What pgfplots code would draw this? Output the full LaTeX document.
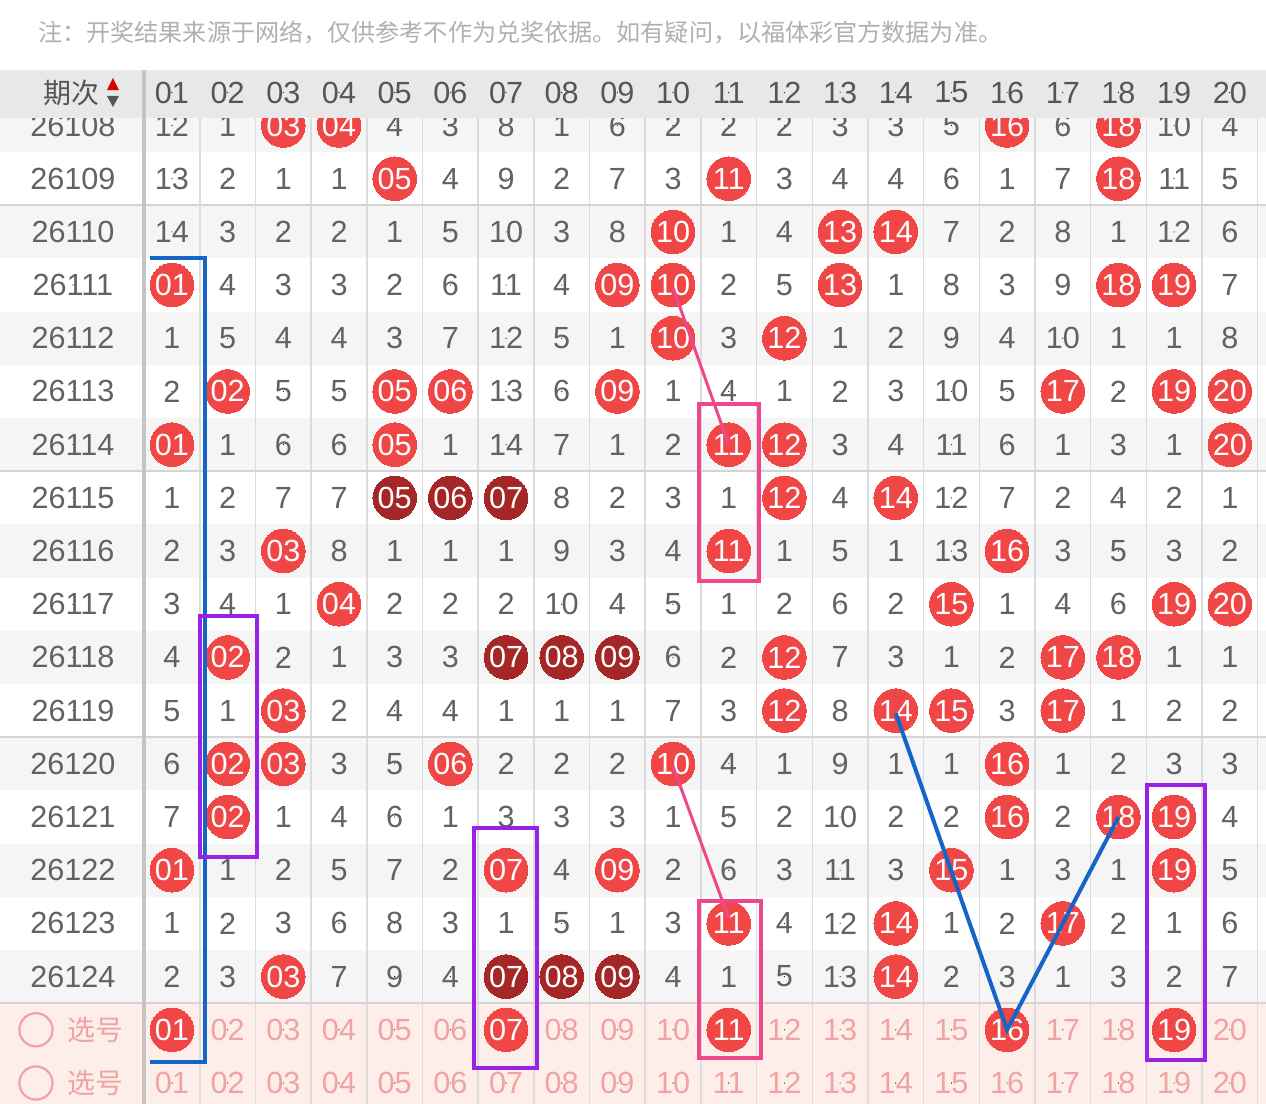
\documentclass[border=0pt]{standalone}
\usepackage{pgfplots}
\pgfplotsset{compat=1.18}
\usepackage{fontspec}
\setmainfont{Liberation Sans}
\newfontfamily\cjk{Noto Sans CJK SC}
\definecolor{txt}{HTML}{626262}
\definecolor{hdrtxt}{HTML}{555555}
\definecolor{ballred}{HTML}{F04646}
\definecolor{balldark}{HTML}{A52626}
\definecolor{rowgray}{HTML}{F5F5F5}
\definecolor{selbg}{HTML}{FDEEEA}
\definecolor{seltxt}{HTML}{F0A3A3}
\definecolor{gridc}{HTML}{DCDCDC}
\definecolor{sepc}{HTML}{D4D4D4}
\definecolor{hdrbg}{HTML}{E8E8E8}
\definecolor{divc}{HTML}{C4C4C4}
\definecolor{notec}{HTML}{B0B0B0}
\definecolor{lineblue}{HTML}{1565C8}
\definecolor{linepurple}{HTML}{9A22E6}
\definecolor{linepink}{HTML}{F0468C}
\newcommand{\dig}{\fontsize{15.3}{16}\selectfont}

\pgfplotsset{
  cells/.style={only marks, mark=*, mark size=0.01pt, mark options={draw=none, fill=none},
    point meta=explicit symbolic, nodes near coords,
    every node near coord/.append style={anchor=center, inner sep=0pt, font=\dig}},
  cellsgray/.style={cells, every node near coord/.append style={text=txt}},
  cellspink/.style={cells, every node near coord/.append style={text=seltxt}},
  cellshdr/.style={cells, every node near coord/.append style={text=hdrtxt}},
  ballsbase/.style={only marks, mark=*, mark size=10.9pt,
    point meta=explicit symbolic, nodes near coords,
    every node near coord/.append style={anchor=center, inner sep=0pt, font=\dig, text=white}},
  ballsred/.style={ballsbase, color=ballred, mark options={draw=ballred, fill=ballred, line width=0pt}},
  ballsdark/.style={ballsbase, color=balldark, mark options={draw=balldark, fill=balldark, line width=0pt}},
}

\begin{document}
\begin{tikzpicture}
\begin{axis}[
  x=27.84pt, y=26.6pt, y dir=reverse,
  xmin=-2.089, xmax=20.65, ymin=-2.359, ymax=18.393,
  hide axis, clip=true, clip marker paths=true,
]
% background
\fill[white] (axis cs:-2.2,-2.5) rectangle (axis cs:21,18.5);
\fill[rowgray] (axis cs:-2.2,-0.5) rectangle (axis cs:21,0.5);
\fill[rowgray] (axis cs:-2.2,1.5) rectangle (axis cs:21,2.5);
\fill[rowgray] (axis cs:-2.2,3.5) rectangle (axis cs:21,4.5);
\fill[rowgray] (axis cs:-2.2,5.5) rectangle (axis cs:21,6.5);
\fill[rowgray] (axis cs:-2.2,7.5) rectangle (axis cs:21,8.5);
\fill[rowgray] (axis cs:-2.2,9.5) rectangle (axis cs:21,10.5);
\fill[rowgray] (axis cs:-2.2,11.5) rectangle (axis cs:21,12.5);
\fill[rowgray] (axis cs:-2.2,13.5) rectangle (axis cs:21,14.5);
\fill[rowgray] (axis cs:-2.2,15.5) rectangle (axis cs:21,16.5);
\fill[selbg] (axis cs:-2.2,16.5) rectangle (axis cs:21,18.6);
% grid
\pgfplotsinvokeforeach{1.5,2.5,3.5,4.5,5.5,6.5,7.5,8.5,9.5,10.5,11.5,12.5,13.5,14.5,15.5,16.5,17.5,18.5,19.5,20.5}{
  \draw[gridc, line width=0.75pt] (axis cs:#1,-0.2) -- (axis cs:#1,18.6);
}
\pgfplotsinvokeforeach{1.5,6.5,11.5,16.5}{
  \draw[sepc, line width=1pt] (axis cs:-2.2,#1) -- (axis cs:21,#1);
}

% period labels
\addplot[cellsgray] coordinates {
(-0.778,0)[26108] (-0.778,1)[26109] (-0.778,2)[26110] (-0.778,3)[26111] (-0.778,4)[26112]
(-0.778,5)[26113] (-0.778,6)[26114] (-0.778,7)[26115] (-0.778,8)[26116] (-0.778,9)[26117]
(-0.778,10)[26118] (-0.778,11)[26119] (-0.778,12)[26120] (-0.778,13)[26121] (-0.778,14)[26122]
(-0.778,15)[26123] (-0.778,16)[26124]
};

% plain miss counts
\addplot[cellsgray] coordinates {
(1,0)[12] (2,0)[1] (5,0)[4] (6,0)[3] (7,0)[8] (8,0)[1] (9,0)[6] (10,0)[2] (11,0)[2] (12,0)[2] (13,0)[3] (14,0)[3] (15,0)[5] (17,0)[6] (19,0)[10] (20,0)[4]
(1,1)[13] (2,1)[2] (3,1)[1] (4,1)[1] (6,1)[4] (7,1)[9] (8,1)[2] (9,1)[7] (10,1)[3] (12,1)[3] (13,1)[4] (14,1)[4] (15,1)[6] (16,1)[1] (17,1)[7] (19,1)[11] (20,1)[5]
(1,2)[14] (2,2)[3] (3,2)[2] (4,2)[2] (5,2)[1] (6,2)[5] (7,2)[10] (8,2)[3] (9,2)[8] (11,2)[1] (12,2)[4] (15,2)[7] (16,2)[2] (17,2)[8] (18,2)[1] (19,2)[12] (20,2)[6]
(2,3)[4] (3,3)[3] (4,3)[3] (5,3)[2] (6,3)[6] (7,3)[11] (8,3)[4] (11,3)[2] (12,3)[5] (14,3)[1] (15,3)[8] (16,3)[3] (17,3)[9] (20,3)[7]
(1,4)[1] (2,4)[5] (3,4)[4] (4,4)[4] (5,4)[3] (6,4)[7] (7,4)[12] (8,4)[5] (9,4)[1] (11,4)[3] (13,4)[1] (14,4)[2] (15,4)[9] (16,4)[4] (17,4)[10] (18,4)[1] (19,4)[1] (20,4)[8]
(1,5)[2] (3,5)[5] (4,5)[5] (7,5)[13] (8,5)[6] (10,5)[1] (11,5)[4] (12,5)[1] (13,5)[2] (14,5)[3] (15,5)[10] (16,5)[5] (18,5)[2]
(2,6)[1] (3,6)[6] (4,6)[6] (6,6)[1] (7,6)[14] (8,6)[7] (9,6)[1] (10,6)[2] (13,6)[3] (14,6)[4] (15,6)[11] (16,6)[6] (17,6)[1] (18,6)[3] (19,6)[1]
(1,7)[1] (2,7)[2] (3,7)[7] (4,7)[7] (8,7)[8] (9,7)[2] (10,7)[3] (11,7)[1] (13,7)[4] (15,7)[12] (16,7)[7] (17,7)[2] (18,7)[4] (19,7)[2] (20,7)[1]
(1,8)[2] (2,8)[3] (4,8)[8] (5,8)[1] (6,8)[1] (7,8)[1] (8,8)[9] (9,8)[3] (10,8)[4] (12,8)[1] (13,8)[5] (14,8)[1] (15,8)[13] (17,8)[3] (18,8)[5] (19,8)[3] (20,8)[2]
(1,9)[3] (2,9)[4] (3,9)[1] (5,9)[2] (6,9)[2] (7,9)[2] (8,9)[10] (9,9)[4] (10,9)[5] (11,9)[1] (12,9)[2] (13,9)[6] (14,9)[2] (16,9)[1] (17,9)[4] (18,9)[6]
(1,10)[4] (3,10)[2] (4,10)[1] (5,10)[3] (6,10)[3] (10,10)[6] (11,10)[2] (13,10)[7] (14,10)[3] (15,10)[1] (16,10)[2] (19,10)[1] (20,10)[1]
(1,11)[5] (2,11)[1] (4,11)[2] (5,11)[4] (6,11)[4] (7,11)[1] (8,11)[1] (9,11)[1] (10,11)[7] (11,11)[3] (13,11)[8] (16,11)[3] (18,11)[1] (19,11)[2] (20,11)[2]
(1,12)[6] (4,12)[3] (5,12)[5] (7,12)[2] (8,12)[2] (9,12)[2] (11,12)[4] (12,12)[1] (13,12)[9] (14,12)[1] (15,12)[1] (17,12)[1] (18,12)[2] (19,12)[3] (20,12)[3]
(1,13)[7] (3,13)[1] (4,13)[4] (5,13)[6] (6,13)[1] (7,13)[3] (8,13)[3] (9,13)[3] (10,13)[1] (11,13)[5] (12,13)[2] (13,13)[10] (14,13)[2] (15,13)[2] (17,13)[2] (20,13)[4]
(2,14)[1] (3,14)[2] (4,14)[5] (5,14)[7] (6,14)[2] (8,14)[4] (10,14)[2] (11,14)[6] (12,14)[3] (13,14)[11] (14,14)[3] (16,14)[1] (17,14)[3] (18,14)[1] (20,14)[5]
(1,15)[1] (2,15)[2] (3,15)[3] (4,15)[6] (5,15)[8] (6,15)[3] (7,15)[1] (8,15)[5] (9,15)[1] (10,15)[3] (12,15)[4] (13,15)[12] (15,15)[1] (16,15)[2] (18,15)[2] (19,15)[1] (20,15)[6]
(1,16)[2] (2,16)[3] (4,16)[7] (5,16)[9] (6,16)[4] (10,16)[4] (11,16)[1] (12,16)[5] (13,16)[13] (15,16)[2] (16,16)[3] (17,16)[1] (18,16)[3] (19,16)[2] (20,16)[7]
};

% selection rows text
\addplot[cellspink] coordinates {
(2,17)[02] (3,17)[03] (4,17)[04] (5,17)[05] (6,17)[06] (8,17)[08] (9,17)[09] (10,17)[10] (12,17)[12] (13,17)[13] (14,17)[14] (15,17)[15] (17,17)[17] (18,17)[18] (20,17)[20]
(1,18)[01] (2,18)[02] (3,18)[03] (4,18)[04] (5,18)[05] (6,18)[06] (7,18)[07] (8,18)[08] (9,18)[09] (10,18)[10] (11,18)[11] (12,18)[12] (13,18)[13] (14,18)[14] (15,18)[15] (16,18)[16] (17,18)[17] (18,18)[18] (19,18)[19] (20,18)[20]
};
\addplot[only marks, mark=o, color=seltxt, mark size=8.3pt, mark options={draw=seltxt, line width=1.1pt}] coordinates {(-1.443,17) (-1.443,18)};
\node[text=seltxt, font=\cjk\fontsize{14}{14}\selectfont] at (axis cs:-0.365,17) {选号};
\node[text=seltxt, font=\cjk\fontsize{14}{14}\selectfont] at (axis cs:-0.365,18) {选号};

% red balls
\addplot[ballsred] coordinates {
(3,0)[03] (4,0)[04] (16,0)[16] (18,0)[18]
(5,1)[05] (11,1)[11] (18,1)[18]
(10,2)[10] (13,2)[13] (14,2)[14]
(1,3)[01] (9,3)[09] (10,3)[10] (13,3)[13] (18,3)[18] (19,3)[19] (21,3)[21]
(10,4)[10] (12,4)[12]
(2,5)[02] (5,5)[05] (6,5)[06] (9,5)[09] (17,5)[17] (19,5)[19] (20,5)[20]
(1,6)[01] (5,6)[05] (11,6)[11] (12,6)[12] (20,6)[20]
(12,7)[12] (14,7)[14]
(3,8)[03] (11,8)[11] (16,8)[16]
(4,9)[04] (15,9)[15] (19,9)[19] (20,9)[20]
(2,10)[02] (12,10)[12] (17,10)[17] (18,10)[18]
(3,11)[03] (12,11)[12] (14,11)[14] (15,11)[15] (17,11)[17]
(2,12)[02] (3,12)[03] (6,12)[06] (10,12)[10] (16,12)[16] (21,12)[21]
(2,13)[02] (16,13)[16] (18,13)[18] (19,13)[19]
(1,14)[01] (7,14)[07] (9,14)[09] (15,14)[15] (19,14)[19]
(11,15)[11] (14,15)[14] (17,15)[17] (21,15)[21]
(3,16)[03] (14,16)[14]
(1,17)[01] (7,17)[07] (11,17)[11] (16,17)[16] (19,17)[19]
};
% dark balls (consecutive runs)
\addplot[ballsdark] coordinates {
(5,7)[05] (6,7)[06] (7,7)[07]
(7,10)[07] (8,10)[08] (9,10)[09]
(7,16)[07] (8,16)[08] (9,16)[09]
};

% overlays
\addplot[lineblue, line width=2pt, line join=miter] coordinates {(0.605,2.49) (1.593,2.49) (1.593,17.60) (0.605,17.60)};
\addplot[linepurple, line width=2pt, line cap=rect] coordinates {(1.503,9.22) (2.527,9.22) (2.527,13.75) (1.503,13.75) (1.503,9.22)};
\addplot[linepurple, line width=2pt, line cap=rect] coordinates {(6.42,13.2) (7.555,13.2) (7.555,17.72) (6.42,17.72) (6.42,13.2)};
\addplot[linepurple, line width=2pt, line cap=rect] coordinates {(18.51,12.40) (19.55,12.40) (19.55,17.57) (18.51,17.57) (18.51,12.40)};
\addplot[linepink, line width=2pt, line cap=rect] coordinates {(10.465,5.235) (11.54,5.235) (11.54,8.56) (10.465,8.56) (10.465,5.235)};
\addplot[linepink, line width=2pt, line cap=rect] coordinates {(10.465,14.58) (11.58,14.58) (11.58,17.53) (10.465,17.53) (10.465,14.58)};
\addplot[linepink, line width=1.5pt] coordinates {(10,3.05) (11,6)};
\addplot[linepink, line width=1.5pt] coordinates {(10,12.05) (11,14.9)};
\addplot[lineblue, line width=2pt, line join=miter] coordinates {(14,11.05) (16,17) (18,13)};

% header
\fill[hdrbg] (axis cs:-2.2,-1.043) rectangle (axis cs:21,-0.141);
\draw[divc, line width=2pt] (axis cs:0.5,-1.043) -- (axis cs:0.5,18.6);
\addplot[cellshdr] coordinates {
(1,-0.62)[01] (2,-0.62)[02] (3,-0.62)[03] (4,-0.62)[04] (5,-0.62)[05] (6,-0.62)[06] (7,-0.62)[07] (8,-0.62)[08] (9,-0.62)[09] (10,-0.62)[10]
(11,-0.62)[11] (12,-0.62)[12] (13,-0.62)[13] (14,-0.62)[14] (15,-0.62)[15] (16,-0.62)[16] (17,-0.62)[17] (18,-0.62)[18] (19,-0.62)[19] (20,-0.62)[20]
};
\node[text=hdrtxt, font=\cjk\fontsize{14}{14}\selectfont] at (axis cs:-0.796,-0.62) {期次};
\fill[red!85!black] (axis cs:-0.168,-0.667) -- (axis cs:0.048,-0.667) -- (axis cs:-0.06,-0.893) -- cycle;
\fill[hdrtxt] (axis cs:-0.168,-0.555) -- (axis cs:0.048,-0.555) -- (axis cs:-0.06,-0.348) -- cycle;

% note
\node[anchor=west, text=notec, font=\cjk\fontsize{12.05}{12}\selectfont, inner sep=0pt] at (axis cs:-1.407,-1.739) {注：开奖结果来源于网络，仅供参考不作为兑奖依据。如有疑问，以福体彩官方数据为准。};
\end{axis}
\pgfresetboundingbox
\path[use as bounding box] (current axis.south west) rectangle (current axis.north east);
\end{tikzpicture}
\end{document}
